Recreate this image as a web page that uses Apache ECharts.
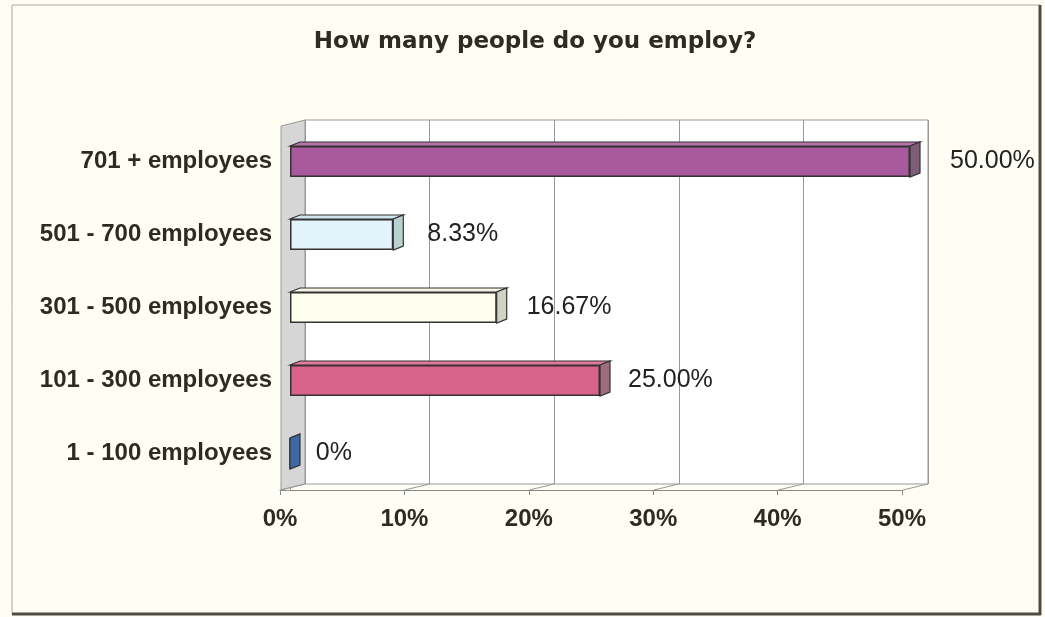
<!DOCTYPE html>
<html>
<head>
<meta charset="utf-8">
<script src="https://cdn.jsdelivr.net/npm/echarts@6/dist/echarts.min.js"></script>
<style>html,body{margin:0;padding:0;background:#fff;}#c{width:1045px;height:617px;}</style>
</head>
<body>
<div id="c"></div>
<script>
const categories = ['1 - 100 employees', '101 - 300 employees', '301 - 500 employees', '501 - 700 employees', '701 + employees'];
const values = [0, 25.00, 16.67, 8.33, 50.00];
const xTicks = [0, 10, 20, 30, 40, 50];
const frontColors = ['#5b8fd6', '#d9628b', '#fffff0', '#e2f3f9', '#a95a9c'];
const sideColors = ['#3d68a6', '#9c6d7c', '#d3d3c2', '#b9d1d0', '#7d5e76'];
const topColors = ['#6f9fe0', '#e07a9d', '#f4f4e4', '#d1e7ee', '#b874aa'];
const labelDist = [25, 28, 30, 34, 40];

const chart = echarts.init(document.getElementById('c'));
const txt = '#2c2c24';
const DX = 10, DY = -4;

chart.setOption({
  backgroundColor: '#fffef4',
  animation: false,
  title: {
    text: 'How many people do you employ?',
    left: 530, top: 26, textAlign: 'center',
    textStyle: { fontFamily: 'DejaVu Sans', fontWeight: 'bold', fontSize: 23, color: txt }
  },
  graphic: [
    { type: 'line', shape: { x1: 12, y1: 5, x2: 1040, y2: 5 }, style: { stroke: '#aaa', lineWidth: 1 } },
    { type: 'line', shape: { x1: 12, y1: 5, x2: 12, y2: 614 }, style: { stroke: '#aaa', lineWidth: 1 } },
    { type: 'line', shape: { x1: 1040, y1: 5, x2: 1040, y2: 615 }, style: { stroke: '#4c4c40', lineWidth: 3 } },
    { type: 'line', shape: { x1: 12, y1: 614, x2: 1041, y2: 614 }, style: { stroke: '#4c4c40', lineWidth: 3 } },
    { type: 'polygon', z: 1, shape: { points: [[281, 126], [305, 120], [305, 484], [281, 490]] },
      style: { fill: '#d6d6d6', stroke: '#999', lineWidth: 1 } }
  ],
  grid: [
    { left: 305, right: 117, top: 120, bottom: 133, show: true, backgroundColor: '#ffffff', borderColor: '#999', borderWidth: 1, z: 0 },
    { left: 280, right: 143, top: 126, bottom: 127 },
    { left: 290, right: 135, top: 125, bottom: 127 }
  ],
  xAxis: [
    { gridIndex: 0, type: 'value', min: 0, max: 50, interval: 10,
      axisLine: { show: false }, axisTick: { show: false }, axisLabel: { show: false },
      splitLine: { show: true, lineStyle: { color: '#999', width: 1 } } },
    { gridIndex: 1, type: 'value', min: 0, max: 50, interval: 10,
      axisLine: { show: true, lineStyle: { color: '#888' } },
      axisTick: { show: true, length: 5, lineStyle: { color: '#888' } },
      axisLabel: { formatter: '{value}%', fontFamily: 'Liberation Sans', fontWeight: 'bold', fontSize: 24, color: txt, margin: 17 },
      splitLine: { show: false } },
    { gridIndex: 2, type: 'value', min: 0, max: 50, show: false }
  ],
  yAxis: [
    { gridIndex: 0, type: 'value', min: 0, max: 1, show: false },
    { gridIndex: 1, type: 'value', min: 0, max: 1, show: false },
    { gridIndex: 2, type: 'category', data: categories, offset: 9,
      axisLine: { show: true, lineStyle: { color: '#999' } },
      axisTick: { show: true, length: 5, lineStyle: { color: '#999' } },
      axisLabel: { fontFamily: 'Liberation Sans', fontWeight: 'bold', fontSize: 24, color: txt, margin: 9 } }
  ],
  series: [
    {
      type: 'custom', xAxisIndex: 0, yAxisIndex: 0, z: 2, silent: true,
      data: xTicks.map(v => [v, 0]),
      renderItem: function (params, api) {
        const b = api.coord([api.value(0), 0]);
        return { type: 'line', shape: { x1: b[0], y1: b[1], x2: b[0] - 25, y2: b[1] + 6 },
          style: { stroke: '#999', lineWidth: 1 } };
      }
    },
    {
      type: 'bar', xAxisIndex: 2, yAxisIndex: 2, z: 5, barWidth: 31,
      data: values.map((v, i) => ({
        value: v,
        itemStyle: { color: frontColors[i] },
        label: { distance: labelDist[i] }
      })),
      itemStyle: { borderColor: '#333', borderWidth: 1.5 },
      label: {
        show: true, position: 'right',
        fontFamily: 'Liberation Sans', fontSize: 25, color: '#222',
        formatter: p => p.value === 0 ? '0%' : p.value.toFixed(2) + '%'
      }
    },
    {
      type: 'custom', xAxisIndex: 2, yAxisIndex: 2, z: 6, silent: true,
      data: values.map((v, i) => [v, i]),
      renderItem: function (params, api) {
        const i = params.dataIndex;
        const p1 = api.coord([api.value(0), api.value(1)]);
        const p0 = api.coord([0, api.value(1)]);
        const y = p1[1], x0 = p0[0], x1 = p1[0];
        const h = 15.5;
        return {
          type: 'group',
          children: [
            { type: 'polygon', shape: { points: [[x0, y - h], [x0 + DX, y - h + DY], [x1 + DX, y - h + DY], [x1, y - h]] },
              style: { fill: topColors[i], stroke: '#333', lineWidth: 1.2 } },
            { type: 'polygon', shape: { points: [[x1, y - h], [x1 + DX, y - h + DY], [x1 + DX, y + h + DY], [x1, y + h]] },
              style: { fill: sideColors[i], stroke: '#333', lineWidth: 1.2 } }
          ]
        };
      }
    }
  ]
});
</script>
</body>
</html>
